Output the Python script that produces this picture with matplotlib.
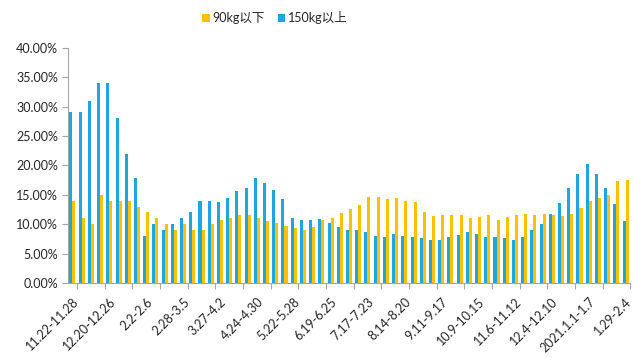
import matplotlib
matplotlib.use("Agg")
import matplotlib.pyplot as plt
import numpy as np
from matplotlib.ticker import FuncFormatter, FixedLocator

plt.rcParams["font.family"] = ["Lato", "Noto Sans CJK SC", "DejaVu Sans"]

# weekly share of pigs by weight class (%)
share_150_up = [
    29.1, 29.1, 31.0, 34.0, 34.0, 28.0, 22.0, 17.9, 8.0, 10.0, 9.0, 10.0,
    11.0, 12.0, 14.0, 14.0, 13.8, 14.4, 15.6, 16.2, 17.9, 17.0, 15.8, 14.3,
    11.0, 10.7, 10.7, 10.9, 10.2, 9.6, 9.1, 9.0, 8.6, 8.0, 7.8, 8.3,
    8.0, 7.8, 7.7, 7.4, 7.4, 7.8, 8.1, 8.6, 8.4, 7.8, 7.8, 7.7,
    7.4, 7.8, 9.0, 10.0, 11.8, 13.7, 16.2, 18.6, 20.3, 18.6, 16.1, 13.5, 10.6,
]
share_90_down = [
    14.0, 11.0, 10.0, 14.9, 14.0, 14.0, 14.0, 13.0, 12.0, 11.0, 10.0, 9.0,
    10.0, 9.0, 9.0, 10.0, 10.8, 11.1, 11.5, 11.6, 11.0, 10.6, 10.2, 9.7,
    9.3, 9.0, 9.5, 10.7, 11.1, 11.9, 12.6, 13.3, 14.6, 14.6, 14.3, 14.4,
    14.0, 13.8, 12.1, 11.4, 11.5, 11.5, 11.5, 11.0, 11.2, 11.5, 10.7, 11.2,
    11.5, 11.8, 11.6, 11.8, 11.5, 11.4, 11.8, 12.8, 14.0, 14.4, 14.9, 17.3, 17.5,
]
week_labels = [
    "11.22-11.28", "12.20-12.26", "2.2-2.6", "2.28-3.5", "3.27-4.2",
    "4.24-4.30", "5.22-5.28", "6.19-6.25", "7.17-7.23", "8.14-8.20",
    "9.11-9.17", "10.9-10.15", "11.6-11.12", "12.4-12.10", "2021.1.1-1.7",
    "1.29-2.4",
]

BLUE = "#1EA6E0"
GOLD = "#FFC000"
GRID = "#A6A6A6"
TEXT = "#262626"

fig = plt.figure(figsize=(6.34, 3.58), dpi=100)
ax = fig.add_axes([0.107, 0.2095, 0.887, 0.6565])

x = np.arange(len(share_150_up))
w = 0.33
ax.bar(x - w / 2, np.array(share_150_up) / 100, width=w, color=BLUE, label="150kg以上")
ax.bar(x + w / 2, np.array(share_90_down) / 100, width=w, color=GOLD, label="90kg以下")

ax.set_xlim(-0.5, len(x) - 0.5)
ax.set_ylim(0, 0.40)
ax.set_yticks(np.arange(0, 0.401, 0.05))
ax.yaxis.set_major_formatter(FuncFormatter(lambda v, _: f"{v * 100:.2f}%"))

ax.set_xticks(np.arange(0, len(x), 4))
ax.set_xticklabels(week_labels, rotation=45, ha="right", rotation_mode="anchor")
ax.xaxis.set_minor_locator(FixedLocator(np.arange(0.5, len(x), 3)))
ax.tick_params(axis="x", which="major", length=0, pad=9, labelsize=9, labelcolor=TEXT)
ax.tick_params(axis="x", which="minor", length=4, color=GRID, width=0.8)
ax.tick_params(axis="y", length=4, color=GRID, width=0.8, labelsize=9, pad=3, labelcolor=TEXT)

for side in ("top", "right"):
    ax.spines[side].set_visible(False)
for side in ("left", "bottom"):
    ax.spines[side].set_color(GRID)
    ax.spines[side].set_linewidth(0.8)

handles, labels = ax.get_legend_handles_labels()
fig.legend(handles[::-1], labels[::-1], loc="center", bbox_to_anchor=(275 / 634, 1 - 18 / 358),
           ncol=2, frameon=False, fontsize=9, handlelength=0.6, handleheight=0.6,
           handletextpad=0.25, columnspacing=1.0, labelcolor=TEXT)

fig.savefig("out.png", dpi=100)
